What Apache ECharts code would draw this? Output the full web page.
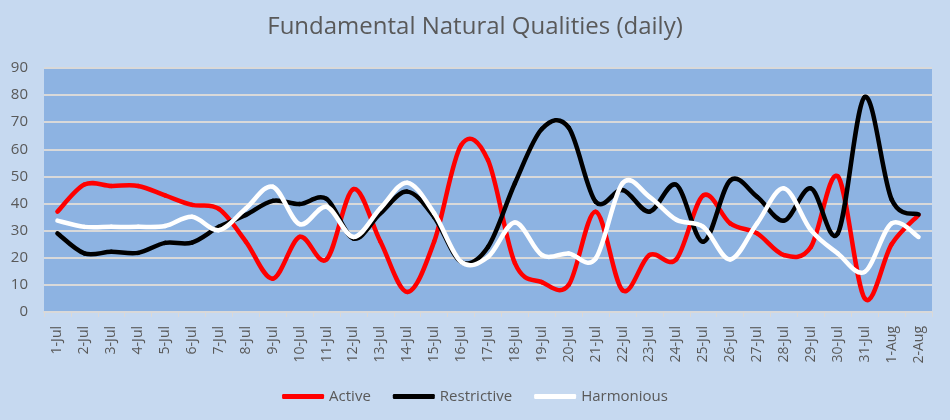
<!DOCTYPE html>
<html><head><meta charset="utf-8">
<script src="https://cdn.jsdelivr.net/npm/echarts@6/dist/echarts.min.js"></script>
<style>html,body{margin:0;padding:0;background:#c6d9f0;}#c{width:950px;height:420px;}</style>
</head><body><div id="c"></div>
<script>
const categories = ['1-Jul','2-Jul','3-Jul','4-Jul','5-Jul','6-Jul','7-Jul','8-Jul','9-Jul','10-Jul','11-Jul','12-Jul','13-Jul','14-Jul','15-Jul','16-Jul','17-Jul','18-Jul','19-Jul','20-Jul','21-Jul','22-Jul','23-Jul','24-Jul','25-Jul','26-Jul','27-Jul','28-Jul','29-Jul','30-Jul','31-Jul','1-Aug','2-Aug'];
const active =      [37,47,46.5,46.5,43,39.5,38,26,12.3,27.7,19.4,45.3,26,7.4,26,61.5,56,18,11,10,37,8,21,19.5,43,32.7,29,21,24,50,5,25,35.8];
const restrictive = [29,21.6,22.2,21.8,25.5,25.6,31.4,35.8,41,39.8,41.7,27.1,36.4,44.4,35,18.5,24,47.5,67.5,68,40.7,45,37,46.9,25.9,48.5,42.5,33.7,45.6,29,79.3,41.5,36];
const harmonious =  [33.7,31.4,31.4,31.4,31.7,35.1,30.2,38.2,46.2,32.4,38.8,27.7,38.2,47.7,36.4,18.5,20.3,33,21,21.6,19.7,47.5,42.5,34,31.4,19.4,32.7,45.6,30.2,21.6,14.8,32.7,27.7];
const yTicks = {min:0, max:90, interval:10};

const chart = echarts.init(document.getElementById('c'));
const txt = '#595959';
const LW = 4.5;

// Smooth line drawn segment by segment (Catmull-Rom Bezier) from library coordinates
function mk(name, values, color) {
  return {
    name, type:'custom', coordinateSystem:'cartesian2d',
    data: values.map((v, i) => [i, v]),
    itemStyle:{color},
    encode:{x:0, y:1},
    renderItem: function (params, api) {
      const i = params.dataIndex, n = values.length;
      if (i >= n - 1) return null;
      const pt = k => { const j = Math.max(0, Math.min(n - 1, k)); return api.coord([j, values[j]]); };
      const p0 = pt(i - 1), p1 = pt(i), p2 = pt(i + 1), p3 = pt(i + 2);
      const t = 1 / 6;
      return {
        type:'bezierCurve',
        shape:{
          x1:p1[0], y1:p1[1], x2:p2[0], y2:p2[1],
          cpx1:p1[0] + (p2[0] - p0[0]) * t, cpy1:p1[1] + (p2[1] - p0[1]) * t,
          cpx2:p2[0] - (p3[0] - p1[0]) * t, cpy2:p2[1] - (p3[1] - p1[1]) * t
        },
        style:{stroke:color, fill:null, lineWidth:LW, lineCap:'round', lineJoin:'round'},
        silent:true
      };
    }
  };
}

chart.setOption({
  backgroundColor:'#c6d9f0',
  animation:false,
  title:{text:'Fundamental Natural Qualities (daily)', left:'center', top:10,
    textStyle:{fontFamily:'Open Sans', fontWeight:'normal', fontSize:24, color:txt}},
  grid:{left:44, right:18, top:68, bottom:108, show:true, backgroundColor:'#8db3e2', borderWidth:0},
  legend:{bottom:11, left:'center', itemWidth:42, itemHeight:5, itemGap:22,
    icon:'roundRect',
    textStyle:{fontFamily:'Open Sans', fontSize:15, color:txt},
    data:[{name:'Active', itemStyle:{color:'#ff0000'}},
          {name:'Restrictive', itemStyle:{color:'#000000'}},
          {name:'Harmonious', itemStyle:{color:'#ffffff'}}]},
  xAxis:{type:'category', data:categories, boundaryGap:true,
    axisLine:{show:true, lineStyle:{color:'#d9d9d9', width:2}},
    axisTick:{show:true, length:5, lineStyle:{color:'#d9d9d9'}},
    axisLabel:{rotate:90, interval:0, fontFamily:'Open Sans', fontSize:14, color:txt, margin:14}},
  yAxis:{type:'value', min:yTicks.min, max:yTicks.max, interval:yTicks.interval,
    axisLine:{show:false}, axisTick:{show:false},
    axisLabel:{fontFamily:'Open Sans', fontSize:15, color:txt, margin:16},
    splitLine:{lineStyle:{color:'#d9d9d9', width:2}}},
  series:[mk('Active', active, '#ff0000'), mk('Restrictive', restrictive, '#000000'), mk('Harmonious', harmonious, '#ffffff')]
});
</script></body></html>
